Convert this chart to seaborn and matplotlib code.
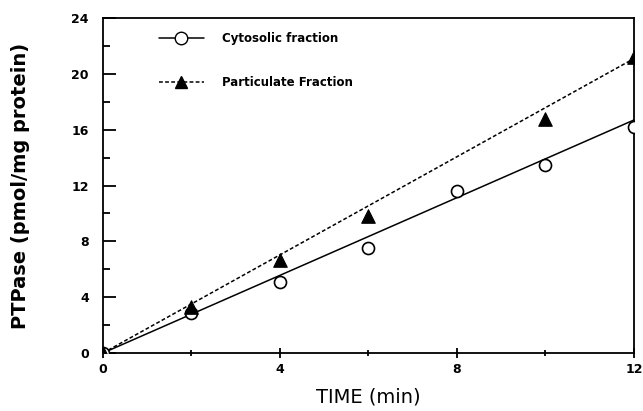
import numpy as np
import pandas as pd
import seaborn as sns
import matplotlib.pyplot as plt
from matplotlib.ticker import MultipleLocator
from matplotlib.lines import Line2D

# Measured points
time_min = [0, 2, 4, 6, 8, 10, 12]
cytosolic = [0, 2.9, 5.1, 7.5, 11.6, 13.5, 16.2]
part_time = [0, 2, 4, 6, 10, 12]
particulate = [0, 3.3, 6.7, 9.8, 16.8, 21.2]

# Fitted lines (end points)
fit_time = [0, 12]
cyto_fit = [0, 16.7]
part_fit = [0, 21.1]

sns.set_style("ticks")
plt.rcParams['font.family'] = ['DejaVu Sans']
plt.rcParams['text.color'] = 'black'
plt.rcParams['axes.labelcolor'] = 'black'
plt.rcParams['xtick.color'] = 'black'
plt.rcParams['ytick.color'] = 'black'
plt.rcParams['axes.edgecolor'] = 'black'

fig = plt.figure(figsize=(6.43, 4.11), dpi=100)
ax = fig.add_axes([0.160, 0.141, 0.826, 0.815])

cyto_df = pd.DataFrame({'t': time_min, 'v': cytosolic})
part_df = pd.DataFrame({'t': part_time, 'v': particulate})

dash = (0, (2.5, 1.5))
sns.lineplot(x=fit_time, y=cyto_fit, ax=ax, color='black', lw=1.1, zorder=2)
sns.lineplot(x=fit_time, y=part_fit, ax=ax, color='black', lw=1.1,
             linestyle=dash, zorder=2)
sns.scatterplot(data=cyto_df, x='t', y='v', ax=ax, marker='o', s=75,
                facecolor='white', edgecolor='black', linewidth=1.2, zorder=3)
sns.scatterplot(data=part_df, x='t', y='v', ax=ax, marker='^', s=95,
                color='black', edgecolor='black', zorder=4)

ax.set_xlim(0, 12)
ax.set_ylim(0, 24)
ax.xaxis.set_major_locator(MultipleLocator(4))
ax.xaxis.set_minor_locator(MultipleLocator(2))
ax.yaxis.set_major_locator(MultipleLocator(4))
ax.yaxis.set_minor_locator(MultipleLocator(2))
ax.tick_params(axis='y', which='major', direction='in', length=9, width=1.3,
               labelsize=9, pad=10)
ax.tick_params(axis='y', which='minor', direction='in', length=5, width=1.3)
ax.tick_params(axis='x', which='major', direction='inout', length=7, width=1.3,
               labelsize=9, pad=4)
ax.tick_params(axis='x', which='minor', direction='inout', length=5, width=1.3)
for lab in ax.get_xticklabels() + ax.get_yticklabels():
    lab.set_fontweight('bold')
for sp in ax.spines.values():
    sp.set_linewidth(1.3)
    sp.set_visible(True)

ax.set_xlabel('TIME (min)', fontsize=14, labelpad=8)
ax.set_ylabel('PTPase (pmol/mg protein)', fontsize=14, fontweight='bold',
              labelpad=30)

handles = [
    Line2D([], [], color='black', lw=1.1, marker='o', markersize=9,
           markerfacecolor='white', markeredgecolor='black'),
    Line2D([], [], color='black', lw=1.1, linestyle=dash, marker='^',
           markersize=9, markerfacecolor='black'),
]
leg = ax.legend(handles, ['Cytosolic fraction', 'Particulate Fraction'],
                loc='upper left', bbox_to_anchor=(0.085, 0.99), frameon=False,
                handlelength=3.8, labelspacing=2.6, handletextpad=1.6,
                prop={'size': 8.5, 'weight': 'bold'})

plt.savefig('out.png', dpi=100)
